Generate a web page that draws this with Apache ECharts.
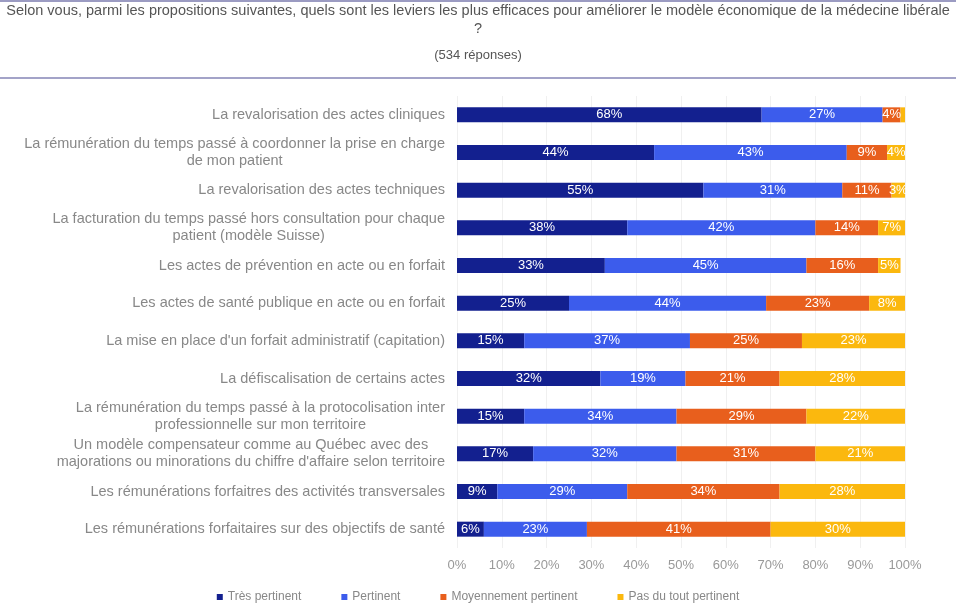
<!DOCTYPE html>
<html>
<head>
<meta charset="utf-8">
<script src="https://cdn.jsdelivr.net/npm/echarts@6/dist/echarts.min.js"></script>
<style>
  html, body { margin: 0; padding: 0; background: #fff; }
  #chart { width: 956px; height: 608px; }
</style>
</head>
<body>
<div id="chart"></div>
<script>
// Survey question and sample size
const questionText = 'Selon vous, parmi les propositions suivantes, quels sont les leviers les plus efficaces pour améliorer le modèle économique de la médecine libérale\n?';
const responsesText = '(534 réponses)';

// Proposals, listed top to bottom
const categories = [
  'La revalorisation des actes cliniques',
  'La rémunération du temps passé à coordonner la prise en charge\nde mon patient',
  'La revalorisation des actes techniques',
  'La facturation du temps passé hors consultation pour chaque\npatient (modèle Suisse)',
  'Les actes de prévention en acte ou en forfait',
  'Les actes de santé publique en acte ou en forfait',
  "La mise en place d'un forfait administratif (capitation)",
  'La défiscalisation de certains actes',
  'La rémunération du temps passé à la protocolisation inter\nprofessionnelle sur mon territoire',
  "Un modèle compensateur comme au Québec avec des\nmajorations ou minorations du chiffre d'affaire selon territoire",
  'Les rémunérations forfaitres des activités transversales',
  'Les rémunérations forfaitaires sur des objectifs de santé'
];

// Share of answers (%) per proposal
const tresPertinent     = [68, 44, 55, 38, 33, 25, 15, 32, 15, 17, 9, 6];
const pertinent         = [27, 43, 31, 42, 45, 44, 37, 19, 34, 32, 29, 23];
const moyennement       = [4, 9, 11, 14, 16, 23, 25, 21, 29, 31, 34, 41];
const pasDuTout         = [1, 4, 3, 7, 5, 8, 23, 28, 22, 21, 28, 30];

const seriesNames = ['Très pertinent', 'Pertinent', 'Moyennement pertinent', 'Pas du tout pertinent'];
const xTicks = ['0%', '10%', '20%', '30%', '40%', '50%', '60%', '70%', '80%', '90%', '100%'];

const colors = ['#13208f', '#3c5cec', '#e85f1d', '#fbb80e'];
const font = '"Liberation Sans", Arial, sans-serif';

const chart = echarts.init(document.getElementById('chart'), null, { renderer: 'canvas' });

function makeSeries(name, values, color) {
  return {
    name: name,
    type: 'bar',
    stack: 'total',
    barWidth: 15,
    data: values,
    itemStyle: { color: color },
    label: {
      show: true,
      position: 'inside',
      color: '#ffffff',
      fontFamily: font,
      fontSize: 13,
      formatter: p => (p.value >= 2 ? p.value + '%' : '')
    },
    emphasis: { disabled: true }
  };
}

chart.setOption({
  animation: false,
  backgroundColor: '#ffffff',
  color: colors,
  title: [
    {
      text: questionText,
      left: 'center',
      top: 2,
      padding: 0,
      textStyle: {
        fontFamily: font,
        fontSize: 14.5,
        fontWeight: 'normal',
        color: '#555',
        lineHeight: 18,
        align: 'center'
      }
    },
    {
      text: responsesText,
      left: 'center',
      top: 49,
      padding: 0,
      textStyle: {
        fontFamily: font,
        fontSize: 13,
        fontWeight: 'normal',
        color: '#555'
      }
    }
  ],
  graphic: [
    { type: 'rect', shape: { x: 0, y: 0, width: 956, height: 2 }, style: { fill: '#9b9bc2' } },
    { type: 'rect', shape: { x: 0, y: 77, width: 956, height: 2 }, style: { fill: '#a3a3c8' } }
  ],
  legend: {
    data: seriesNames,
    bottom: 0,
    left: 'center',
    icon: 'rect',
    itemWidth: 6,
    itemHeight: 6,
    itemGap: 40,
    textStyle: { fontFamily: font, fontSize: 12, color: '#888' }
  },
  grid: { left: 457, right: 51, top: 96, bottom: 60 },
  xAxis: {
    type: 'value',
    min: 0,
    max: 100,
    interval: 10,
    axisLine: { show: false },
    axisTick: { show: false },
    splitLine: { show: true, lineStyle: { color: '#f0f0f0', width: 1 } },
    axisLabel: {
      color: '#999',
      fontFamily: font,
      fontSize: 13,
      margin: 11,
      formatter: v => xTicks[Math.round(v / 10)]
    }
  },
  yAxis: {
    type: 'category',
    inverse: true,
    data: categories,
    axisLine: { show: false },
    axisTick: { show: false },
    axisLabel: {
      margin: 12,
      fontFamily: font,
      fontSize: 14.5,
      color: '#888',
      lineHeight: 17,
      formatter: v => v.split('\n').map(l => '{c|' + l + '}').join('\n'),
      rich: { c: { align: 'center', fontFamily: font, fontSize: 14.5, color: '#888', lineHeight: 17 } }
    }
  },
  series: [
    makeSeries(seriesNames[0], tresPertinent, colors[0]),
    makeSeries(seriesNames[1], pertinent, colors[1]),
    makeSeries(seriesNames[2], moyennement, colors[2]),
    makeSeries(seriesNames[3], pasDuTout, colors[3])
  ]
});
</script>
</body>
</html>
